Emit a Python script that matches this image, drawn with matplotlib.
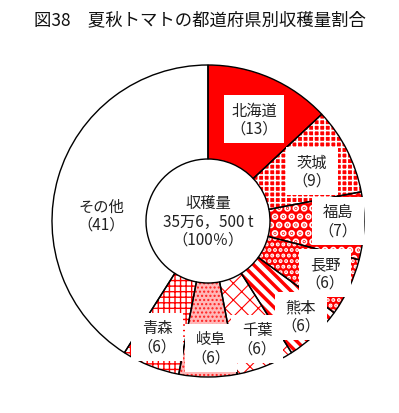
import matplotlib
matplotlib.use("Agg")
import matplotlib.pyplot as plt

plt.rcParams["font.family"] = ["Noto Sans CJK JP", "DejaVu Sans"]

# data (%) clockwise from 12 o'clock
prefs = ["北海道", "茨城", "福島", "長野", "熊本", "千葉", "岐阜", "青森", "その他"]
shares = [13, 9, 7, 6, 6, 6, 6, 6, 41]
title = "図38　夏秋トマトの都道府県別収穫量割合"
center_lines = ["収穫量", "35万6，500 t", "（100％）"]

# styles: (facecolor, hatch color, hatch, hatch linewidth)
styles = [
    ("#ff0000", "#ff0000", None, 1.0),
    ("#ff0000", "white", "+++", 1.2),
    ("#ff0000", "white", "..", 3.5),
    ("#ff0000", "white", "...", 2.0),
    ("white", "#ff0000", "\\\\\\", 2.5),
    ("white", "#ff0000", "xx", 0.8),
    ("#ffb8b8", "#ff2020", "....", 1.0),
    ("white", "#ff0000", "+++", 1.0),
    ("white", "white", None, 1.0),
]

# label box centres in pixels (x, y from top)
label_pos = [(254, 120), (312, 172), (338, 222), (325, 274), (301, 317),
             (257, 340), (211, 349), (157, 338), (101, 216)]

W, H = 399, 414
cx, cy, r_out, r_in = 208, 222, 156, 62

fig = plt.figure(figsize=(W / 100, H / 100), dpi=100)
ax = fig.add_axes([0, 0, 1, 1])

wedges, _ = ax.pie(shares, startangle=90, counterclock=False,
                   radius=r_out, center=(cx, H - cy),
                   wedgeprops=dict(width=r_out - r_in, linewidth=0))
for w, (fc, hc, hatch, hlw) in zip(wedges, styles):
    w.set_facecolor(fc)
    w.set_edgecolor(hc)
    if hatch:
        w.set_hatch(hatch)
        if hasattr(w, "set_hatch_linewidth"):
            w.set_hatch_linewidth(hlw)

# outlines
outl, _ = ax.pie(shares, startangle=90, counterclock=False,
                 radius=r_out, center=(cx, H - cy),
                 wedgeprops=dict(width=r_out - r_in, facecolor="none",
                                 edgecolor="black", linewidth=1.0))

ax.set_xlim(0, W)
ax.set_ylim(0, H)
ax.set_aspect("equal")
ax.axis("off")

# labels
for name, val, (x, y) in zip(prefs, shares, label_pos):
    box = None if name == "その他" else dict(
        boxstyle="square,pad=0.4", facecolor="white", edgecolor="none")
    ax.text(x, H - y, f"{name}\n（{val}）", ha="center", va="center",
            fontsize=11, color="#222222", linespacing=1.1, bbox=box)

ax.text(cx, H - cy, "\n".join(center_lines), ha="center", va="center",
        fontsize=11, color="#222222", linespacing=1.1)

fig.text(0.5, 1 - 20 / H, title, ha="center", va="center", fontsize=12.5,
         color="#111111")

fig.savefig("out.png", dpi=100)
